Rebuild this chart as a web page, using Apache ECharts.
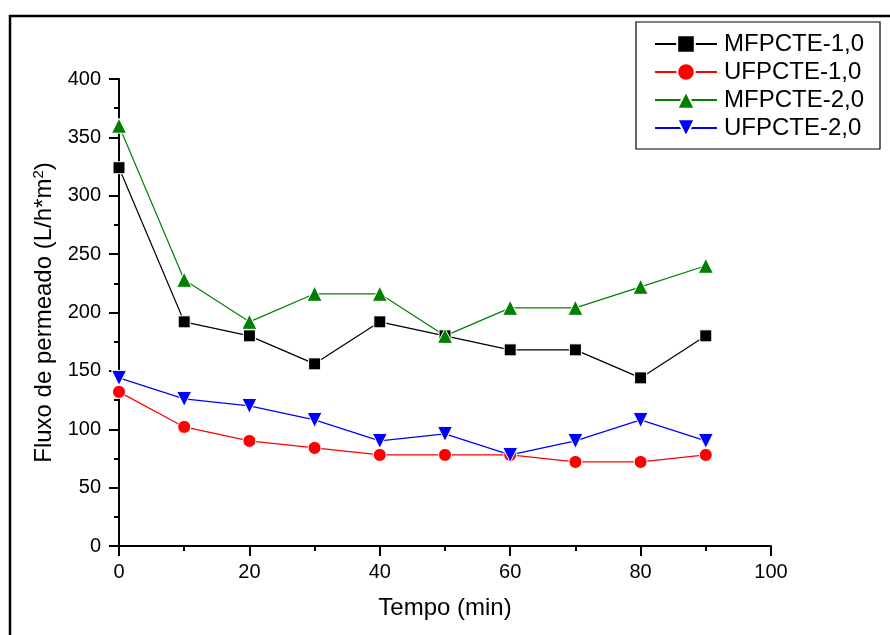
<!DOCTYPE html>
<html><head><meta charset="utf-8">
<script src="https://cdn.jsdelivr.net/npm/echarts@6/dist/echarts.min.js"></script>
<style>html,body{margin:0;padding:0;background:#fff}#c{width:890px;height:635px}</style>
</head><body><div id="c"></div>
<script>
const tempo = [0, 10, 20, 30, 40, 50, 60, 70, 80, 90];
const mf1 = [324, 192, 180, 156, 192, 180, 168, 168, 144, 180];
const uf1 = [132, 102, 90, 84, 78, 78, 78, 72, 72, 78];
const mf2 = [360, 228, 192, 216, 216, 180, 204, 204, 222, 240];
const uf2 = [144, 126, 120, 108, 90, 96, 78, 90, 108, 90];
const seriesNames = ['MFPCTE-1,0', 'UFPCTE-1,0', 'MFPCTE-2,0', 'UFPCTE-2,0'];

const pair = arr => tempo.map((t, i) => [t, arr[i]]);
const font = 'Liberation Sans, Arial, sans-serif';

function mk(name, data, color, symbol, size, rot) {
  return {
    name, type: 'line', data: pair(data), symbol, symbolSize: size, symbolRotate: rot || 0,
    lineStyle: { color, width: 1.2 },
    itemStyle: { color, borderColor: '#fff', borderWidth: 1 },
    emphasis: { disabled: true }, animation: false, z: 3
  };
}

const chart = echarts.init(document.getElementById('c'));
chart.setOption({
  animation: false,
  backgroundColor: '#fff',
  grid: { left: 119, top: 79, right: 119, bottom: 89 },
  graphic: [{
    type: 'rect', shape: { x: 10, y: 16, width: 900, height: 700 },
    style: { fill: 'none', stroke: '#000', lineWidth: 2.5 }, silent: true
  }],
  legend: {
    orient: 'vertical', left: 636, top: 22, width: 245,
    padding: [10, 16, 9, 18], itemGap: 4,
    borderColor: '#000', borderWidth: 1.2,
    itemWidth: 62, itemHeight: 22,
    textStyle: { fontFamily: font, fontSize: 24, color: '#000', padding: [0, 0, 0, 2] },
    data: seriesNames
  },
  xAxis: {
    type: 'value', min: 0, max: 100, interval: 20,
    name: 'Tempo (min)', nameLocation: 'middle', nameGap: 50,
    nameTextStyle: { fontFamily: font, fontSize: 24, color: '#000' },
    axisLine: { lineStyle: { color: '#000', width: 2 } },
    axisTick: { show: true, inside: false, length: 10, lineStyle: { width: 2, color: '#000' } },
    minorTick: { show: true, splitNumber: 2, length: 5, lineStyle: { width: 2, color: '#000' } },
    axisLabel: { fontFamily: font, fontSize: 20, color: '#000', margin: 16 },
    splitLine: { show: false }
  },
  yAxis: {
    type: 'value', min: 0, max: 400, interval: 50,
    name: '{a|Fluxo de permeado (L/h*m}{s|2}{a|)}', nameLocation: 'middle', nameGap: 59,
    nameTextStyle: {
      rich: {
        a: { fontFamily: font, fontSize: 24, color: '#000' },
        s: { fontFamily: font, fontSize: 15, color: '#000', padding: [0, 0, 12, 0] }
      }
    },
    axisLine: { show: true, lineStyle: { color: '#000', width: 2 } },
    axisTick: { show: true, inside: false, length: 10, lineStyle: { width: 2, color: '#000' } },
    minorTick: { show: true, splitNumber: 2, length: 5, lineStyle: { width: 2, color: '#000' } },
    axisLabel: { fontFamily: font, fontSize: 20, color: '#000', margin: 18 },
    splitLine: { show: false }
  },
  series: [
    mk(seriesNames[0], mf1, '#000000', 'rect', 12),
    mk(seriesNames[1], uf1, '#ff0000', 'circle', 13),
    mk(seriesNames[2], mf2, '#008000', 'triangle', 15),
    mk(seriesNames[3], uf2, '#0000ff', 'triangle', 15, 180)
  ]
});
</script></body></html>
